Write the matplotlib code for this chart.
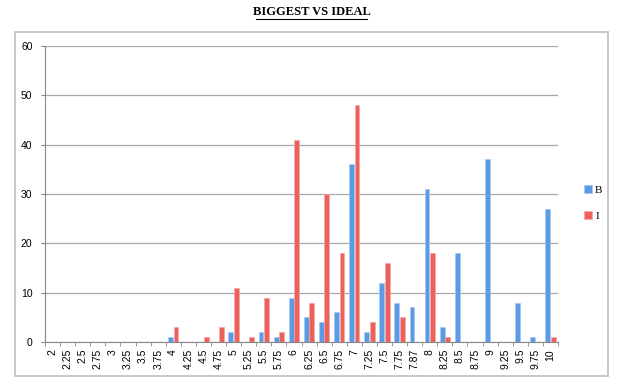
import matplotlib
matplotlib.use("Agg")
import matplotlib.pyplot as plt
from matplotlib.patches import Rectangle
import numpy as np

categories = ["2", "2.25", "2.5", "2.75", "3", "3.25", "3.5", "3.75", "4", "4.25",
              "4.5", "4.75", "5", "5.25", "5.5", "5.75", "6", "6.25", "6.5", "6.75",
              "7", "7.25", "7.5", "7.75", "7.87", "8", "8.25", "8.5", "8.75", "9",
              "9.25", "9.5", "9.75", "10"]
B = [0, 0, 0, 0, 0, 0, 0, 0, 1, 0,
     0, 0, 2, 0, 2, 1, 9, 5, 4, 6,
     36, 2, 12, 8, 7, 31, 3, 18, 0, 37,
     0, 8, 1, 27]
I = [0, 0, 0, 0, 0, 0, 0, 0, 3, 0,
     1, 3, 11, 1, 9, 2, 41, 8, 30, 18,
     48, 4, 16, 5, 0, 18, 1, 0, 0, 0,
     0, 0, 0, 1]
y_ticks = [0, 10, 20, 30, 40, 50, 60]

plt.rcParams['font.family'] = ['Liberation Serif', 'DejaVu Serif']
tick_font = ['Liberation Sans', 'DejaVu Sans']

W, H = 623, 384
fig = plt.figure(figsize=(W/100, H/100), dpi=100)
# outer chart frame
fig.patches.append(Rectangle((15/W, 1 - 376/H), (608-15)/W, (376-32)/H,
                             transform=fig.transFigure, fill=False,
                             edgecolor='#c4c4c4', linewidth=1.3))
fig.text(0.5, 1 - 12/H, "BIGGEST VS IDEAL", ha='center', va='center',
         fontsize=9, fontweight='bold')
fig.add_artist(plt.Line2D([256/W, 367/W], [1 - 19/H, 1 - 19/H],
                          color='black', linewidth=0.8, transform=fig.transFigure))

ax = fig.add_axes([45/W, 1 - 342/H, (558-45)/W, (342-46)/H])
x = np.arange(len(categories))
w = 0.32
ax.bar(x - w/2 - 0.02, B, width=w, color='#5b9be3', edgecolor='#a3c9f3',
       linewidth=0.5, label='B', zorder=3)
ax.bar(x + w/2 + 0.02, I, width=w, color='#ec615b', edgecolor='#f7a8a5',
       linewidth=0.5, label='I', zorder=3)

ax.set_xlim(-0.5, len(categories) - 0.5)
ax.set_ylim(0, 60)
ax.set_yticks(y_ticks)
ax.set_yticklabels([str(v) for v in y_ticks], fontsize=7.5, family=tick_font)
ax.yaxis.grid(True, color='#a8a8a8', linewidth=0.9, zorder=0)
ax.set_xticks(x)
ax.set_xticklabels(categories, rotation=90, fontsize=7.5, family=tick_font)
ax.set_xticks(np.arange(-0.5, len(categories), 1), minor=True)
ax.tick_params(axis='x', which='major', length=0, pad=5)
ax.tick_params(axis='x', which='minor', length=3, color='#888888')
ax.tick_params(axis='y', length=3, color='#888888', pad=6)
for s in ['top', 'right']:
    ax.spines[s].set_visible(False)
for s in ['left', 'bottom']:
    ax.spines[s].set_color('#888888')

leg = fig.legend(loc='center left', bbox_to_anchor=(574/W, 1 - 203/H),
                 frameon=False, fontsize=8, handlelength=0.7, handleheight=0.7,
                 labelspacing=1.4, handletextpad=0.3)

fig.savefig("out.png", dpi=100)
